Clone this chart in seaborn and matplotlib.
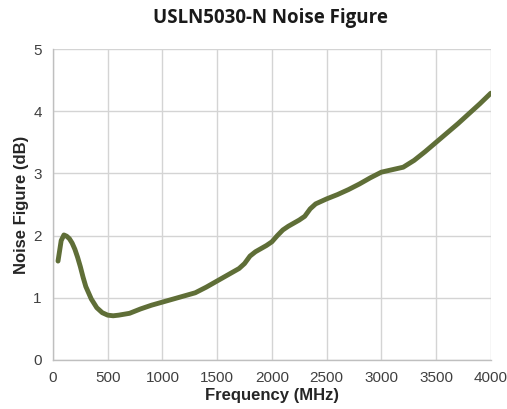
import pandas as pd
import matplotlib
matplotlib.use("Agg")
import matplotlib.pyplot as plt
import seaborn as sns

# data
freq_mhz = [46, 75, 100, 125, 150, 175, 200, 225, 250, 275,
            300, 350, 400, 450, 500, 550, 600, 700, 800, 900,
            1000, 1100, 1200, 1300, 1400, 1500, 1600, 1700, 1750, 1800,
            1850, 1900, 1950, 2000, 2050, 2100, 2150, 2200, 2250, 2300,
            2350, 2400, 2450, 2500, 2600, 2700, 2800, 2900, 3000, 3100,
            3200, 3300, 3400, 3500, 3600, 3700, 3800, 3900, 4000]
noise_db = [1.59, 1.92, 2.01, 1.99, 1.95, 1.88, 1.78, 1.65, 1.50, 1.33,
            1.18, 0.98, 0.84, 0.76, 0.72, 0.71, 0.72, 0.75, 0.82, 0.88,
            0.93, 0.98, 1.03, 1.08, 1.17, 1.27, 1.37, 1.47, 1.55, 1.67,
            1.74, 1.79, 1.84, 1.90, 2.00, 2.09, 2.15, 2.20, 2.25, 2.31,
            2.43, 2.51, 2.55, 2.59, 2.66, 2.74, 2.83, 2.93, 3.02, 3.06,
            3.10, 3.21, 3.35, 3.50, 3.65, 3.80, 3.96, 4.12, 4.29]

df = pd.DataFrame({"Frequency": freq_mhz, "NF": noise_db})

sns.set_style("white")
plt.rcParams["font.family"] = ["Liberation Sans", "DejaVu Sans"]

fig = plt.figure(figsize=(5.07, 4.09), dpi=100)
ax = fig.add_axes([0.1045, 0.12, 0.8635, 0.76])

sns.lineplot(data=df, x="Frequency", y="NF", ax=ax, color="#5f6e37",
             linewidth=3.5, solid_joinstyle="round", solid_capstyle="round")

ax.set_xlim(0, 4000)
ax.set_ylim(0, 5)
ax.set_xticks(range(0, 4001, 500))
ax.set_yticks(range(0, 6))
ax.grid(True, color="#d4d4d4", linewidth=1.0)
ax.set_axisbelow(True)

for side in ["top", "right"]:
    ax.spines[side].set_visible(False)
for side in ["left", "bottom"]:
    ax.spines[side].set_color("#bfbfbf")
    ax.spines[side].set_linewidth(1.0)

ax.tick_params(axis="both", which="both", direction="out", length=4,
               color="#bfbfbf", labelsize=11, labelcolor="#404040", pad=4)

ax.set_xlabel("Frequency (MHz)", fontsize=12, fontweight="bold", labelpad=2)
ax.set_ylabel("Noise Figure (dB)", fontsize=12, fontweight="bold", labelpad=3)

fig.text(0.533, 0.955, "USLN5030-N Noise Figure", ha="center", va="center",
         fontsize=13.5, fontweight="bold", family=["Open Sans", "DejaVu Sans"],
         color="#1a1a1a")

fig.savefig("out.png", dpi=100)
